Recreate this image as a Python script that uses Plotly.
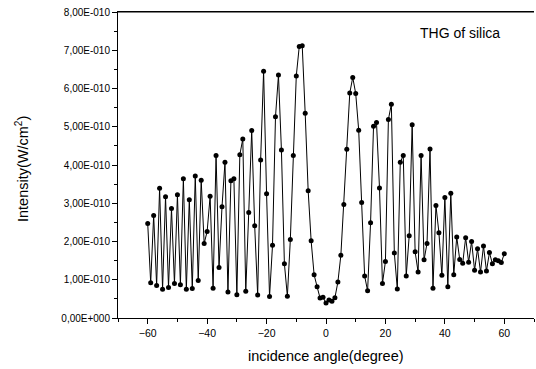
import plotly.graph_objects as go

angles = list(range(-60, 61))
intensity_e10 = [
    2.47, 0.92, 2.68, 0.85, 3.39, 0.75, 3.17, 0.80, 2.86, 0.90,
    3.22, 0.87, 3.64, 0.75, 3.09, 0.77, 3.71, 0.98, 3.60, 1.95,
    2.26, 3.18, 0.78, 4.25, 1.32, 2.91, 4.07, 0.68, 3.59, 3.64,
    0.61, 4.27, 4.68, 0.70, 2.76, 4.90, 2.41, 0.60, 4.13, 6.45,
    3.25, 0.56, 1.90, 5.26, 6.35, 4.39, 1.42, 0.57, 2.05, 4.25,
    6.33, 7.10, 7.12, 5.35, 3.33, 2.02, 1.13, 0.82, 0.52, 0.54,
    0.39, 0.47, 0.44, 0.53, 0.94, 1.64, 2.97, 4.41, 5.88, 6.29,
    5.87, 4.91, 3.02, 1.10, 0.71, 2.49, 5.01, 5.11, 3.40, 0.90,
    1.48, 5.19, 5.59, 1.70, 0.76, 4.07, 4.25, 1.10, 2.15, 5.05,
    1.73, 1.20, 4.25, 1.52, 1.95, 4.42, 0.78, 2.94, 2.23, 1.12,
    3.15, 0.82, 3.26, 1.13, 2.12, 1.53, 1.43, 2.10, 1.46, 2.00,
    1.25, 1.81, 1.20, 1.88, 1.23, 1.71, 1.42, 1.52, 1.50, 1.45,
    1.68,
]
intensity = [v * 1e-10 for v in intensity_e10]

y_tickvals = [i * 1e-10 for i in range(0, 9)]
y_ticktext = ["0,00E+000", "1,00E-010", "2,00E-010", "3,00E-010", "4,00E-010",
              "5,00E-010", "6,00E-010", "7,00E-010", "8,00E-010"]
x_tickvals = [-60, -40, -20, 0, 20, 40, 60]

font_family = "Liberation Sans, Arial, sans-serif"

fig = go.Figure()
fig.add_trace(go.Scatter(
    x=angles, y=intensity, mode="lines+markers",
    line=dict(color="black", width=1),
    marker=dict(color="black", size=5),
    showlegend=False,
))

fig.update_layout(
    width=536, height=369,
    margin=dict(l=118, r=2, t=12, b=51),
    paper_bgcolor="white", plot_bgcolor="white",
    font=dict(family=font_family, color="black", size=10),
    xaxis=dict(
        range=[-70, 70], tickvals=x_tickvals, automargin=False,
        showline=True, linecolor="black", linewidth=1, mirror=True,
        ticks="outside", ticklen=5, tickwidth=1, tickcolor="black",
        minor=dict(dtick=10, tick0=-50, ticks="outside", ticklen=3, tickcolor="black"),
        showgrid=False, zeroline=False, ticklabeloverflow="allow",
        tickfont=dict(size=10.5),
    ),
    yaxis=dict(
        range=[0, 8e-10], tickvals=y_tickvals, ticktext=y_ticktext, automargin=False,
        showline=True, linecolor="black", linewidth=1,
        ticks="outside", ticklen=5, tickwidth=1, tickcolor="black",
        minor=dict(dtick=0.5e-10, tick0=0, ticks="outside", ticklen=3, tickcolor="black"),
        showgrid=False, zeroline=False, ticklabeloverflow="allow",
        tickfont=dict(size=10),
    ),
    shapes=[dict(type="line", xref="paper", yref="paper", x0=0, x1=1, y0=1, y1=1,
                 line=dict(color="black", width=1))],
    annotations=[
        dict(text="THG of silica", x=0.721, y=0.93, xref="paper", yref="paper",
             xanchor="left", yanchor="middle", showarrow=False, font=dict(size=14)),
        dict(text="incidence angle(degree)", x=0.5, y=0, xref="paper", yref="paper",
             xanchor="center", yanchor="middle", yshift=-38, showarrow=False,
             font=dict(size=14.5)),
        dict(text="Intensity(W/cm<sup>2</sup>)", x=0, y=0.5, xref="paper", yref="paper",
             xanchor="center", yanchor="middle", xshift=-96, yshift=-4, textangle=-90,
             showarrow=False, font=dict(size=14.5)),
    ],
)

fig.write_html(
    "out.html",
    config={"displayModeBar": False},
    post_script="document.body.style.margin='0';document.body.style.padding='0';",
)
